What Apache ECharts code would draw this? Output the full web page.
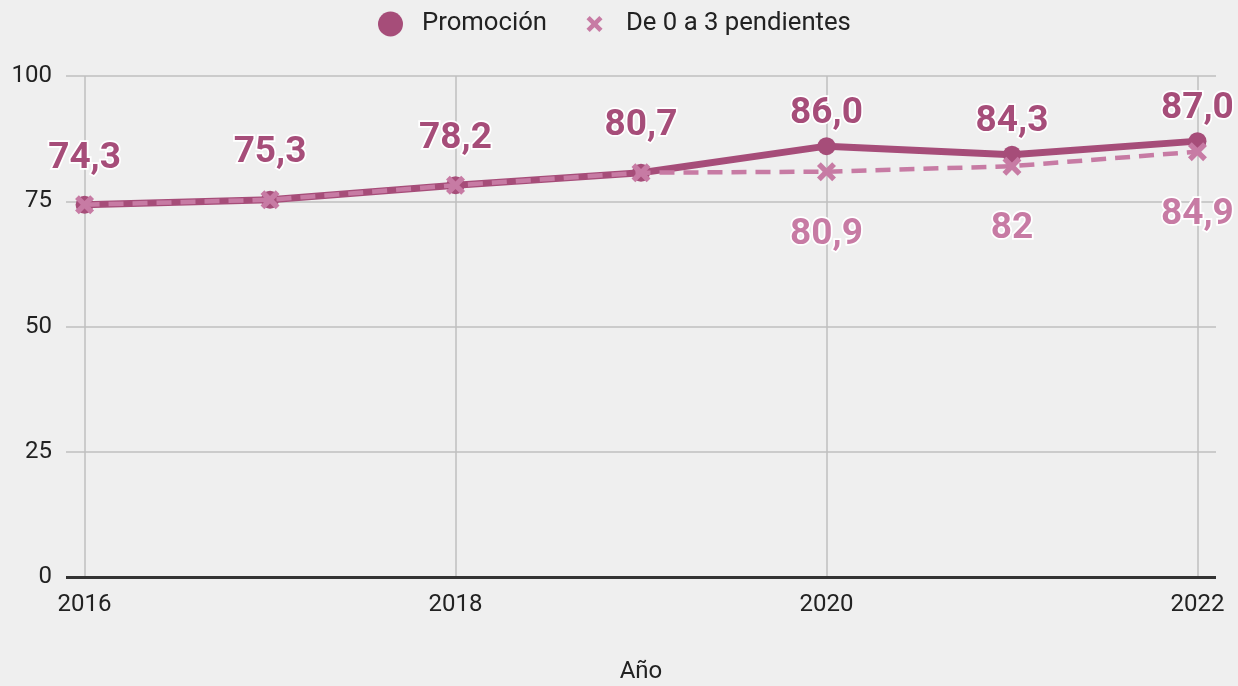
<!DOCTYPE html>
<html>
<head>
<meta charset="utf-8">
<script src="https://cdn.jsdelivr.net/npm/echarts@6/dist/echarts.min.js"></script>
<style>
html, body { margin: 0; padding: 0; background: #efefef; }
#chart { width: 1238px; height: 686px; }
</style>
</head>
<body>
<div id="chart"></div>
<script>
var years = [2016, 2017, 2018, 2019, 2020, 2021, 2022]
var promocion = [74.3, 75.3, 78.2, 80.7, 86.0, 84.3, 87.0]
var pendientes = [74.3, 75.3, 78.2, 80.7, 80.9, 82, 84.9]
var yearTicks = [2016, 2018, 2020, 2022]

var crossPath = 'path://M2,0 L5,3 L8,0 L10,2 L7,5 L10,8 L8,10 L5,7 L2,10 L0,8 L3,5 L0,2 Z'
// misma cruz con margen para que salga más pequeña en la leyenda
var crossLegend = 'path://M-2.8,-2.8 M12.8,12.8 M2,0 L5,3 L8,0 L10,2 L7,5 L10,8 L8,10 L5,7 L2,10 L0,8 L3,5 L0,2 Z'

var dark = '#a64d79'
var light = '#c77ba4'

var chart = echarts.init(document.getElementById('chart'))

// etiquetas de la serie principal: las primeras van más altas
var promoData = promocion.map(function (v, i) {
    return {
        value: [years[i], v],
        label: { distance: i < 4 ? 19 : 5 }
    }
})
// la discontinua solo lleva etiqueta cuando se separa de la otra
var pendData = pendientes.map(function (v, i) {
    return {
        value: [years[i], v],
        label: { show: i >= 4 }
    }
})

chart.setOption({
    backgroundColor: '#efefef',
    textStyle: { fontFamily: 'Roboto' },
    legend: {
        top: 6,
        left: 373,
        itemWidth: 25,
        itemHeight: 25,
        itemGap: 35,
        textStyle: { fontSize: 25.7, color: '#222', padding: [0, 0, 0, 14] },
        data: [
            { name: 'Promoción', icon: 'circle' },
            { name: 'De 0 a 3 pendientes', icon: crossLegend }
        ]
    },
    grid: { left: 66, right: 22, top: 76, bottom: 109, outerBoundsMode: 'none' },
    xAxis: {
        type: 'value',
        min: 2015.9,
        max: 2022.1,
        name: 'Año',
        nameLocation: 'middle',
        nameGap: 83,
        nameTextStyle: { fontSize: 24, color: '#222' },
        axisLine: { show: false },
        axisTick: { show: false, customValues: yearTicks },
        axisLabel: {
            customValues: yearTicks,
            fontSize: 24,
            color: '#222',
            margin: 16,
            formatter: function (v) { return String(v) }
        },
        splitLine: { show: true, lineStyle: { color: '#bfbfbf', width: 1.5 } }
    },
    yAxis: {
        type: 'value',
        min: 0,
        max: 100,
        interval: 25,
        axisLine: { show: false },
        axisTick: { show: false },
        axisLabel: { fontSize: 24, color: '#222', margin: 14 },
        splitLine: { lineStyle: { color: '#bfbfbf', width: 1.5 } }
    },
    series: [
        {
            name: 'Promoción',
            type: 'line',
            data: promoData,
            symbol: 'circle',
            symbolSize: 18,
            itemStyle: { color: dark },
            lineStyle: { color: dark, width: 7 },
            label: {
                show: true,
                position: 'top',
                fontSize: 37,
                fontWeight: 'bold',
                color: dark,
                textBorderColor: '#fff',
                textBorderWidth: 3.5,
                formatter: function (p) { return p.value[1].toFixed(1).replace('.', ',') }
            },
            z: 2
        },
        {
            name: 'De 0 a 3 pendientes',
            type: 'line',
            data: pendData,
            symbol: crossPath,
            symbolSize: 19,
            itemStyle: { color: light },
            lineStyle: { color: light, width: 4.5, type: [15, 9] },
            label: {
                position: 'bottom',
                distance: 35,
                fontSize: 37,
                fontWeight: 'bold',
                color: light,
                textBorderColor: '#fff',
                textBorderWidth: 3.5,
                formatter: function (p) { return String(p.value[1]).replace('.', ',') }
            },
            z: 3
        },
        {
            // línea del cero
            type: 'line',
            silent: true,
            data: [],
            markLine: {
                symbol: 'none',
                silent: true,
                label: { show: false },
                lineStyle: { color: '#333', width: 3, type: 'solid' },
                data: [{ yAxis: 0 }]
            }
        }
    ]
})
</script>
</body>
</html>
